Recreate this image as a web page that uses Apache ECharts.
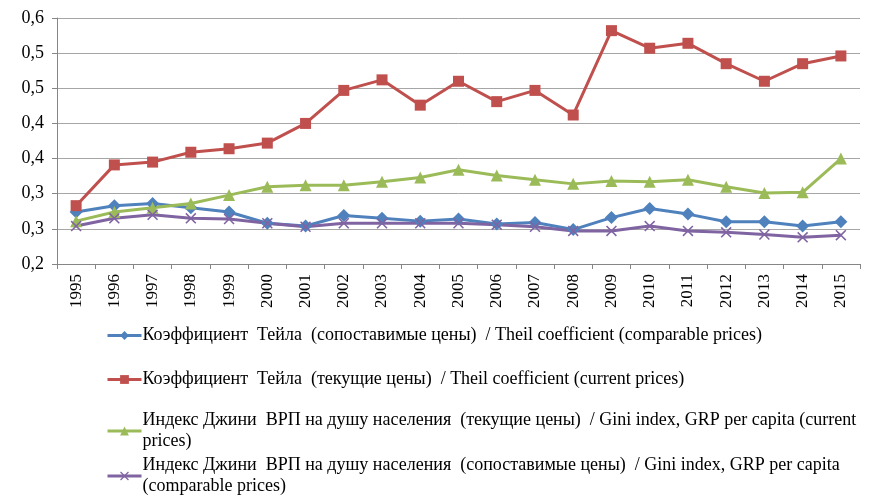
<!DOCTYPE html>
<html>
<head>
<meta charset="utf-8">
<script src="https://cdn.jsdelivr.net/npm/echarts@6/dist/echarts.min.js"></script>
<style>
  html, body { margin: 0; padding: 0; background: #fff; }
  #chart { width: 883px; height: 496px; }
</style>
</head>
<body>
<div id="chart"></div>
<script>
// данные
const years = ['1995', '1996', '1997', '1998', '1999', '2000', '2001', '2002', '2003', '2004', '2005',
  '2006', '2007', '2008', '2009', '2010', '2011', '2012', '2013', '2014', '2015'];

const theilComparable = [0.274, 0.283, 0.286, 0.280, 0.274, 0.258, 0.254, 0.269, 0.265, 0.261, 0.264,
  0.257, 0.259, 0.249, 0.266, 0.279, 0.271, 0.260, 0.260, 0.254, 0.260];
const theilCurrent = [0.283, 0.341, 0.345, 0.359, 0.364, 0.372, 0.400, 0.447, 0.462, 0.426, 0.460,
  0.431, 0.447, 0.412, 0.532, 0.507, 0.514, 0.485, 0.460, 0.485, 0.496];
const giniCurrent = [0.261, 0.274, 0.280, 0.286, 0.298, 0.310, 0.312, 0.312, 0.317, 0.323, 0.334,
  0.326, 0.320, 0.314, 0.318, 0.317, 0.320, 0.310, 0.301, 0.302, 0.350];
const giniComparable = [0.254, 0.265, 0.270, 0.265, 0.264, 0.258, 0.253, 0.258, 0.258, 0.258, 0.258,
  0.256, 0.253, 0.247, 0.247, 0.254, 0.247, 0.245, 0.242, 0.238, 0.241];

const yTickLabels = ['0,2', '0,3', '0,3', '0,4', '0,4', '0,5', '0,5', '0,6'];

const names = [
  'Коэффициент  Тейла  (сопоставимые цены)  / Theil coefficient (comparable prices)',
  'Коэффициент  Тейла  (текущие цены)  / Theil coefficient (current prices)',
  'Индекс Джини  ВРП на душу населения  (текущие цены)  / Gini index, GRP per capita (current\nprices)',
  'Индекс Джини  ВРП на душу населения  (сопоставимые цены)  / Gini index, GRP per capita\n(comparable prices)'
];

const colors = ['#4F81BD', '#C0504D', '#9BBB59', '#8064A2'];
const crossPath = 'path://M0,1 L1,0 L5,4 L9,0 L10,1 L6,5 L10,9 L9,10 L5,6 L1,10 L0,9 L4,5 Z';

const font = '"Liberation Serif", "DejaVu Serif", serif';

const chart = echarts.init(document.getElementById('chart'));

const makeSeries = (name, data, color, symbol, size) => ({
  name,
  type: 'line',
  data,
  symbol,
  symbolSize: size,
  showAllSymbol: true,
  lineStyle: { color, width: 3 },
  itemStyle: { color },
  z: 2
});

// каждая строка легенды отдельно, чтобы задать точные отступы
const legendTops = [325, 369, 410, 455];
const makeLegend = (i) => ({
  data: [names[i]],
  left: 106,
  top: legendTops[i],
  padding: 0,
  itemWidth: 34,
  itemHeight: 11,
  itemGap: 0,
  selectedMode: false,
  lineStyle: { width: 3 },
  textStyle: {
    fontFamily: font,
    fontSize: 18,
    color: '#000',
    lineHeight: 21,
    padding: [0, 0, 0, -4]
  }
});

chart.setOption({
  animation: false,
  color: colors,
  grid: { left: 57, right: 23, top: 18, bottom: 232 },
  legend: [0, 1, 2, 3].map(makeLegend),
  xAxis: {
    type: 'category',
    data: years,
    boundaryGap: true,
    axisLine: { lineStyle: { color: '#868686', width: 1 } },
    axisTick: { show: true, length: 5, lineStyle: { color: '#868686' } },
    axisLabel: {
      rotate: 90,
      margin: 10,
      fontFamily: font,
      fontSize: 17,
      color: '#000',
      interval: 0
    }
  },
  yAxis: {
    type: 'value',
    min: 0.2,
    max: 0.55,
    interval: 0.05,
    axisLine: { show: true, lineStyle: { color: '#868686', width: 1 } },
    axisTick: { show: true, length: 5, lineStyle: { color: '#868686' } },
    splitLine: { lineStyle: { color: '#A6A6A6', width: 1 } },
    axisLabel: {
      margin: 13,
      fontFamily: font,
      fontSize: 18,
      color: '#000',
      formatter: (v, i) => yTickLabels[i]
    }
  },
  series: [
    makeSeries(names[0], theilComparable, colors[0], 'diamond', 13),
    makeSeries(names[1], theilCurrent, colors[1], 'rect', 11),
    makeSeries(names[2], giniCurrent, colors[2], 'triangle', 12),
    makeSeries(names[3], giniComparable, colors[3], crossPath, 11)
  ]
});
</script>
</body>
</html>
